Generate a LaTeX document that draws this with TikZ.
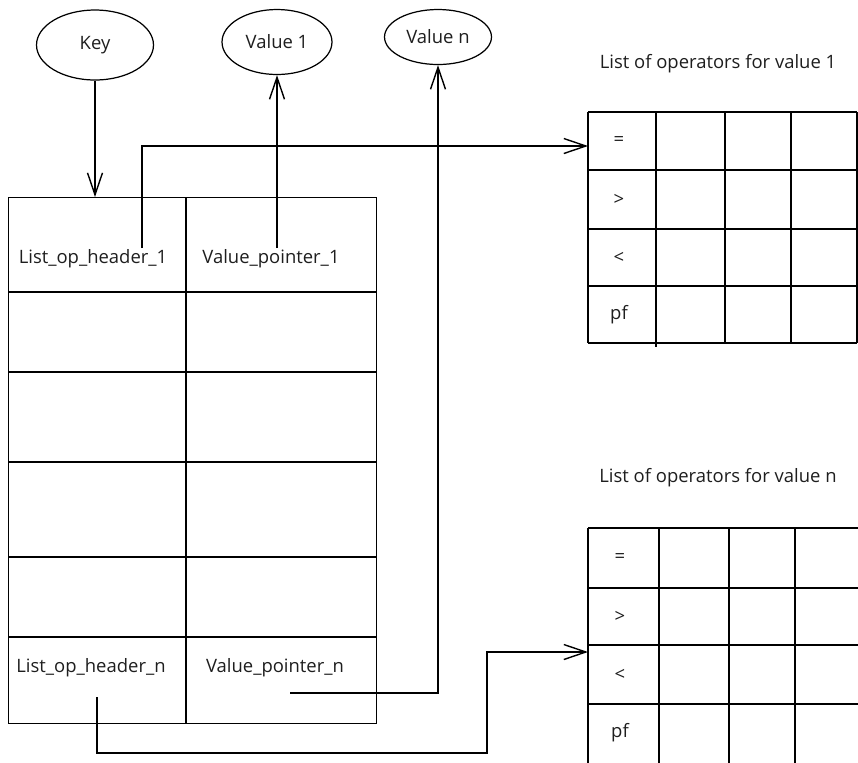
\documentclass[tikz,border=0pt]{standalone}
\usepackage{fontspec}
\setmainfont{Open Sans}
\usetikzlibrary{positioning, arrows.meta, shapes.geometric}
\definecolor{labelgray}{RGB}{30,30,30}

\begin{document}
\begin{tikzpicture}[x=0.02cm, y=-0.02cm, line width=0.8pt,
    >={Straight Barb[length=4.4mm, width=3mm]},
    every node/.style={font=\fontsize{10.5}{12}\selectfont, text=labelgray}]
  \tikzset{field/.style={ellipse, draw, line width=0.7pt, inner sep=0pt}}
  \useasboundingbox (0,0) rectangle (858,762);
  \clip (0,0) rectangle (858,762);

  % key and value fields
  \node[field, minimum width=2.34cm, minimum height=1.4cm] (key) at (95,45) {Key};
  \node[field, minimum width=2.2cm, minimum height=1.3cm] (val1) at (277,42) {Value 1};
  \node[field, minimum width=2.14cm, minimum height=1.1cm] (valn) at (438,37) {Value n};

  % hash table
  \node[draw, anchor=north west, minimum width=7.36cm, minimum height=10.52cm, inner sep=0pt] (htab) at (8,197) {};
  \draw (186,197) -- (186,723);
  \foreach \y in {292,372,462,557,637}
    \draw (8,\y) -- (376,\y);

  \node (hdr1) at (93,259) {List\_op\_header\_1};
  \node (ptr1) at (271,259) {Value\_pointer\_1};
  \node (hdrn) at (91,668) {List\_op\_header\_n};
  \node (ptrn) at (275,668) {Value\_pointer\_n};

  % operator tables
  \node (cap1) at (718,64) {List of operators for value 1};
  \foreach \y in {112,170,229,286,343}
    \draw (588,\y) -- (857,\y);
  \foreach \x in {588,656,725,791,857}
    \draw (\x,112) -- (\x,343);
  \draw (656,343) -- (656,347);
  \foreach \l/\y [count=\i] in {=/141,>/199.5,</257.5,pf/314.5}
    \node (opa\i) at (619,\y) {\l};

  \node (capn) at (718,478) {List of operators for value n};
  \foreach \y in {528,588,645,704}
    \draw (588,\y) -- (870,\y);
  \foreach \x in {588,659,729,795}
    \draw (\x,528) -- (\x,770);
  \foreach \l/\y [count=\i] in {=/558,>/616.5,</674.5,pf/733}
    \node (opb\i) at (620,\y) {\l};

  % pointers
  \coordinate (lh1) at (142,248);
  \coordinate (vp1) at (277,248);
  \coordinate (lhn) at (97,697);
  \coordinate (vpn) at (290,693);
  \coordinate (bend) at (487,753);
  \coordinate (ina) at (588,146);
  \coordinate (inb) at (588,652);

  \draw[->] (key.south) -- (key.south |- htab.north);
  \draw[->] (vp1) -- (vp1 |- val1.south);
  \draw[->] (vpn) -| (valn.south);
  \draw[->] (lh1) |- (ina);
  \draw[->] (lhn) |- (bend) |- (inb);
\end{tikzpicture}
\end{document}
